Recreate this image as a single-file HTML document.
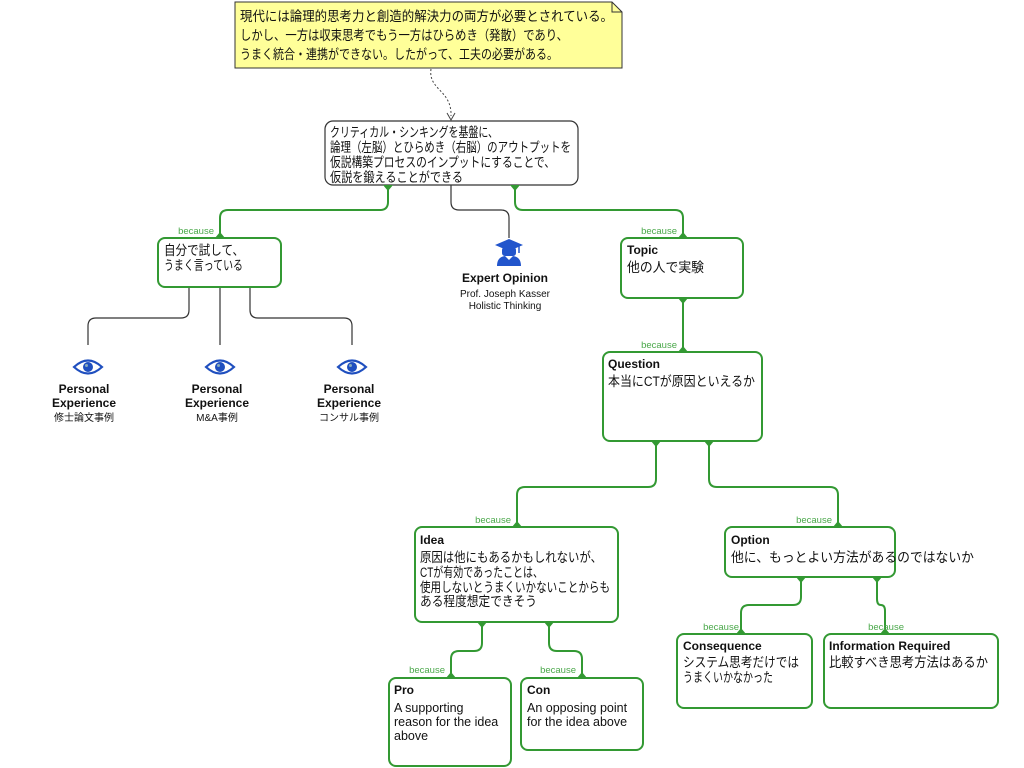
<!DOCTYPE html>
<html><head><meta charset="utf-8"><style>
html,body{margin:0;padding:0;background:#fff;width:1024px;height:768px;overflow:hidden}
svg{display:block}
text{font-family:"Liberation Sans","Noto Sans CJK JP",sans-serif;fill:#111}
.j{font-size:13.5px}
.e{font-size:12.5px}
.b{font-size:12px;font-weight:bold}
.bc{font-size:9.5px;fill:#4aa84a}
.s{font-size:10px}
.g{fill:none;stroke:#339933;stroke-width:2}
.box{fill:#fff;stroke:#339933;stroke-width:2}
.k{fill:none;stroke:#333;stroke-width:1.2}
</style></head><body>
<svg width="1024" height="768" viewBox="0 0 1024 768" xmlns="http://www.w3.org/2000/svg">
<path d="M235 2 H612 L622 12 V68 H235 Z" fill="#ffff99" stroke="#333" stroke-width="1"/>
<path d="M612 2 V12 H622" fill="none" stroke="#333" stroke-width="1"/>
<text class="j" x="240" y="21" textLength="373" lengthAdjust="spacingAndGlyphs">現代には論理的思考力と創造的解決力の両方が必要とされている。</text>
<text class="j" x="240" y="40" textLength="328" lengthAdjust="spacingAndGlyphs">しかし、一方は収束思考でもう一方はひらめき（発散）であり、</text>
<text class="j" x="240" y="59" textLength="318" lengthAdjust="spacingAndGlyphs">うまく統合・連携ができない。したがって、工夫の必要がある。</text>
<path d="M431 69 C428 90 452 90 451 116" fill="none" stroke="#444" stroke-width="1" stroke-dasharray="2,2"/>
<path d="M447 113 L451 120 L455 113" fill="none" stroke="#444" stroke-width="1"/>

<path class="g" d="M388 185 V202 Q388 210 380 210 H228 Q220 210 220 218 V238"/>
<path class="g" d="M515 185 V202 Q515 210 523 210 H675 Q683 210 683 218 V238"/>
<path class="g" d="M683 298 V352"/>
<path class="g" d="M656 441 V479 Q656 487 648 487 H525 Q517 487 517 495 V527"/>
<path class="g" d="M709 441 V479 Q709 487 717 487 H830 Q838 487 838 495 V527"/>
<path class="g" d="M482 622 V643 Q482 651 474 651 H459 Q451 651 451 659 V678"/>
<path class="g" d="M549 622 V643 Q549 651 557 651 H574 Q582 651 582 659 V678"/>
<path class="g" d="M801 577 V597 Q801 605 793 605 H749 Q741 605 741 613 V634"/>
<path class="g" d="M877 577 V599 Q877 605 881 605 Q885 605 885 611 V634"/>
<path class="k" d="M451 185 V202 Q451 210 459 210 H501 Q509 210 509 218 V238"/>
<path class="k" d="M189 287 V310 Q189 318 181 318 H96 Q88 318 88 326 V345"/>
<path class="k" d="M220 287 V345"/>
<path class="k" d="M250 287 V310 Q250 318 258 318 H344 Q352 318 352 326 V345"/>

<rect x="325" y="121" width="253" height="64" rx="8" fill="#fff" stroke="#333" stroke-width="1.2"/>
<text class="j" x="330" y="137" textLength="168" lengthAdjust="spacingAndGlyphs">クリティカル・シンキングを基盤に、</text>
<text class="j" x="330" y="152" textLength="241" lengthAdjust="spacingAndGlyphs">論理（左脳）とひらめき（右脳）のアウトプットを</text>
<text class="j" x="330" y="167" textLength="225" lengthAdjust="spacingAndGlyphs">仮説構築プロセスのインプットにすることで、</text>
<text class="j" x="330" y="182" textLength="133" lengthAdjust="spacingAndGlyphs">仮説を鍛えることができる</text>

<rect class="box" x="158" y="238" width="123" height="49" rx="7"/>
<text class="j" x="164" y="255" textLength="80" lengthAdjust="spacingAndGlyphs">自分で試して、</text>
<text class="j" x="164" y="270" textLength="79" lengthAdjust="spacingAndGlyphs">うまく言っている</text>

<rect class="box" x="621" y="238" width="122" height="60" rx="7"/>
<text class="b" x="627" y="254">Topic</text>
<text class="j" x="627" y="272" textLength="77" lengthAdjust="spacingAndGlyphs">他の人で実験</text>

<rect class="box" x="603" y="352" width="159" height="89" rx="7"/>
<text class="b" x="608" y="368">Question</text>
<text class="j" x="608" y="386" textLength="147" lengthAdjust="spacingAndGlyphs">本当にCTが原因といえるか</text>

<rect class="box" x="415" y="527" width="203" height="95" rx="7"/>
<text class="b" x="420" y="544">Idea</text>
<text class="j" x="420" y="562" textLength="182" lengthAdjust="spacingAndGlyphs">原因は他にもあるかもしれないが、</text>
<text class="j" x="420" y="577" textLength="123" lengthAdjust="spacingAndGlyphs">CTが有効であったことは、</text>
<text class="j" x="420" y="592" textLength="190" lengthAdjust="spacingAndGlyphs">使用しないとうまくいかないことからも</text>
<text class="j" x="420" y="606" textLength="117" lengthAdjust="spacingAndGlyphs">ある程度想定できそう</text>

<rect class="box" x="725" y="527" width="170" height="50" rx="7"/>
<text class="b" x="731" y="544">Option</text>
<text class="j" x="731" y="562" textLength="243" lengthAdjust="spacingAndGlyphs">他に、もっとよい方法があるのではないか</text>

<rect class="box" x="389" y="678" width="122" height="88" rx="7"/>
<text class="b" x="394" y="694">Pro</text>
<text class="e" x="394" y="712">A supporting</text>
<text class="e" x="394" y="726">reason for the idea</text>
<text class="e" x="394" y="740">above</text>

<rect class="box" x="521" y="678" width="122" height="72" rx="7"/>
<text class="b" x="527" y="694">Con</text>
<text class="e" x="527" y="712">An opposing point</text>
<text class="e" x="527" y="726">for the idea above</text>

<rect class="box" x="677" y="634" width="135" height="74" rx="7"/>
<text class="b" x="683" y="650">Consequence</text>
<text class="j" x="683" y="667" textLength="116" lengthAdjust="spacingAndGlyphs">システム思考だけでは</text>
<text class="j" x="683" y="682" textLength="90" lengthAdjust="spacingAndGlyphs">うまくいかなかった</text>

<rect class="box" x="824" y="634" width="174" height="74" rx="7"/>
<text class="b" x="829" y="650">Information Required</text>
<text class="j" x="829" y="667" textLength="159" lengthAdjust="spacingAndGlyphs">比較すべき思考方法はあるか</text>

<g fill="#339933">
<path d="M383 185 H393 L388 191 Z"/><path d="M510 185 H520 L515 191 Z"/>
<path d="M215 238 H225 L220 232 Z"/><path d="M678 238 H688 L683 232 Z"/>
<path d="M678 298 H688 L683 304 Z"/><path d="M678 352 H688 L683 346 Z"/>
<path d="M651 441 H661 L656 447 Z"/><path d="M704 441 H714 L709 447 Z"/>
<path d="M512 527 H522 L517 521 Z"/><path d="M833 527 H843 L838 521 Z"/>
<path d="M477 622 H487 L482 628 Z"/><path d="M544 622 H554 L549 628 Z"/>
<path d="M446 678 H456 L451 672 Z"/><path d="M577 678 H587 L582 672 Z"/>
<path d="M796 577 H806 L801 583 Z"/><path d="M872 577 H882 L877 583 Z"/>
<path d="M736 634 H746 L741 628 Z"/><path d="M880 634 H890 L885 628 Z"/>
</g>

<text class="bc" x="214" y="234" text-anchor="end">because</text>
<text class="bc" x="677" y="234" text-anchor="end">because</text>
<text class="bc" x="677" y="348" text-anchor="end">because</text>
<text class="bc" x="511" y="523" text-anchor="end">because</text>
<text class="bc" x="832" y="523" text-anchor="end">because</text>
<text class="bc" x="445" y="673" text-anchor="end">because</text>
<text class="bc" x="576" y="673" text-anchor="end">because</text>
<text class="bc" x="739" y="630" text-anchor="end">because</text>
<text class="bc" x="904" y="630" text-anchor="end">because</text>

<g transform="translate(509,254)" fill="#2255cc">
<path d="M-14 -9 L0 -15 L14 -9 L0 -3 Z"/>
<path d="M10 -8 V-1" stroke="#2255cc" stroke-width="1.5"/>
<rect x="-7" y="-7" width="14" height="9" rx="3"/>
<path d="M-12 12 Q-12 3 -4 2 L0 6 L4 2 Q12 3 12 12 Z"/>
</g>
<text class="b" x="505" y="282" text-anchor="middle">Expert Opinion</text>
<text class="s" x="505" y="297" text-anchor="middle">Prof. Joseph Kasser</text>
<text class="s" x="505" y="309" text-anchor="middle">Holistic Thinking</text>

<g>
<path d="M74 367 Q88 354 102 367 Q88 380 74 367 Z" fill="#fff" stroke="#1f4fbf" stroke-width="2.2"/>
<circle cx="88" cy="367" r="5" fill="#1f4fbf"/><circle cx="86.5" cy="365.5" r="1.5" fill="#8ab"/>
</g>
<g transform="translate(132,0)">
<path d="M74 367 Q88 354 102 367 Q88 380 74 367 Z" fill="#fff" stroke="#1f4fbf" stroke-width="2.2"/>
<circle cx="88" cy="367" r="5" fill="#1f4fbf"/><circle cx="86.5" cy="365.5" r="1.5" fill="#8ab"/>
</g>
<g transform="translate(264,0)">
<path d="M74 367 Q88 354 102 367 Q88 380 74 367 Z" fill="#fff" stroke="#1f4fbf" stroke-width="2.2"/>
<circle cx="88" cy="367" r="5" fill="#1f4fbf"/><circle cx="86.5" cy="365.5" r="1.5" fill="#8ab"/>
</g>
<text class="b" x="84" y="393" text-anchor="middle">Personal</text>
<text class="b" x="84" y="407" text-anchor="middle">Experience</text>
<text class="s" x="84" y="421" text-anchor="middle">修士論文事例</text>
<text class="b" x="217" y="393" text-anchor="middle">Personal</text>
<text class="b" x="217" y="407" text-anchor="middle">Experience</text>
<text class="s" x="217" y="421" text-anchor="middle">M&amp;A事例</text>
<text class="b" x="349" y="393" text-anchor="middle">Personal</text>
<text class="b" x="349" y="407" text-anchor="middle">Experience</text>
<text class="s" x="349" y="421" text-anchor="middle">コンサル事例</text>
</svg>
</body></html>
